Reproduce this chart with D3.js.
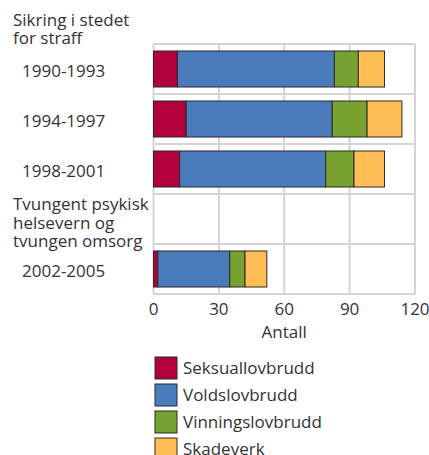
<!DOCTYPE html>
<html>
<head>
<meta charset="utf-8">
<script src="https://cdn.jsdelivr.net/npm/d3@7"></script>
<style>
body { margin: 0; background: #fff; }
text { font-family: "Open Sans", sans-serif; fill: #333; font-size: 17px; }
</style>
</head>
<body>
<svg id="chart" width="429" height="455"></svg>
<script>
// rows of the chart, "gap" is the empty row that holds the second group header
var rows = ["1990-1993", "1994-1997", "1998-2001", "gap", "2002-2005"];
var periods = ["1990-1993", "1994-1997", "1998-2001", "2002-2005"];
var seriesNames = ["Seksuallovbrudd", "Voldslovbrudd", "Vinningslovbrudd", "Skadeverk"];
var seksual = [11, 15, 12, 2];
var volds = [72, 67, 67, 33];
var vinnings = [11, 16, 13, 7];
var skade = [12, 16, 14, 10];
var xTicks = [0, 30, 60, 90, 120];
var header1 = ["Sikring i stedet", "for straff"];
var header2 = ["Tvungent psykisk", "helsevern og", "tvungen omsorg"];
var colors = ["#B1003A", "#4A7BBA", "#78A22F", "#FFBE55"];

var dataset = periods.map(function(p, i) {
	return {period: p, s0: seksual[i], s1: volds[i], s2: vinnings[i], s3: skade[i]};
});
var keys = ["s0", "s1", "s2", "s3"];
var stacked = d3.stack().keys(keys)(dataset);

var svg = d3.select("#chart");

var x = d3.scaleLinear().domain([0, 120]).range([153.5, 415]);
var rowY = d3.scaleBand().domain(rows).range([44, 294]).padding(0);
var barPad = 0.14;

// grid
var grid = svg.append("g").attr("stroke", "#d4d4d4").attr("stroke-width", 2);
grid.selectAll("line.v")
	.data(xTicks)
	.enter().append("line")
	.attr("x1", function(d) { return x(d); })
	.attr("x2", function(d) { return x(d); })
	.attr("y1", rowY.range()[0])
	.attr("y2", rowY.range()[1]);
grid.selectAll("line.h")
	.data(rows.concat(["end"]))
	.enter().append("line")
	.attr("x1", x(0))
	.attr("x2", x(120))
	.attr("y1", function(d, i) { return rowY.range()[0] + i * rowY.step(); })
	.attr("y2", function(d, i) { return rowY.range()[0] + i * rowY.step(); });

// bars
svg.append("g").selectAll("g")
	.data(stacked)
	.enter().append("g")
	.attr("fill", function(d, i) { return colors[i]; })
	.selectAll("rect")
	.data(function(d) { return d; })
	.enter().append("rect")
	.attr("x", function(d) { return x(d[0]); })
	.attr("width", function(d) { return x(d[1]) - x(d[0]); })
	.attr("y", function(d) { return rowY(d.data.period) + rowY.bandwidth() * barPad; })
	.attr("height", rowY.bandwidth() * (1 - 2 * barPad))
	.attr("stroke", "#2b2b2b")
	.attr("stroke-width", 1);

// x tick labels
svg.append("g").selectAll("text")
	.data(xTicks)
	.enter().append("text")
	.attr("x", function(d) { return x(d); })
	.attr("y", 315)
	.attr("text-anchor", "middle")
	.text(function(d) { return d; });

svg.append("text")
	.attr("x", (x(0) + x(120)) / 2)
	.attr("y", 338)
	.attr("text-anchor", "middle")
	.text("Antall");

// row labels
svg.append("g").selectAll("text")
	.data(periods)
	.enter().append("text")
	.attr("x", 22)
	.attr("y", function(d) { return rowY(d) + rowY.bandwidth() / 2 + 8; })
	.text(function(d) { return d; });

// group headers
svg.append("g").selectAll("text")
	.data(header1)
	.enter().append("text")
	.attr("x", 13)
	.attr("y", function(d, i) { return 26 + i * 18; })
	.text(function(d) { return d; });

svg.append("g").selectAll("text")
	.data(header2)
	.enter().append("text")
	.attr("x", 13)
	.attr("y", function(d, i) { return rowY("gap") + 16 + i * 18.5; })
	.text(function(d) { return d; });

// legend
var legend = svg.append("g").selectAll("g")
	.data(seriesNames)
	.enter().append("g")
	.attr("transform", function(d, i) { return "translate(155," + (357 + i * 27) + ")"; });
legend.append("rect")
	.attr("width", 22)
	.attr("height", 22)
	.attr("fill", function(d, i) { return colors[i]; })
	.attr("stroke", "#2b2b2b")
	.attr("stroke-width", 1);
legend.append("text")
	.attr("x", 28)
	.attr("y", 17)
	.text(function(d) { return d; });
</script>
</body>
</html>
